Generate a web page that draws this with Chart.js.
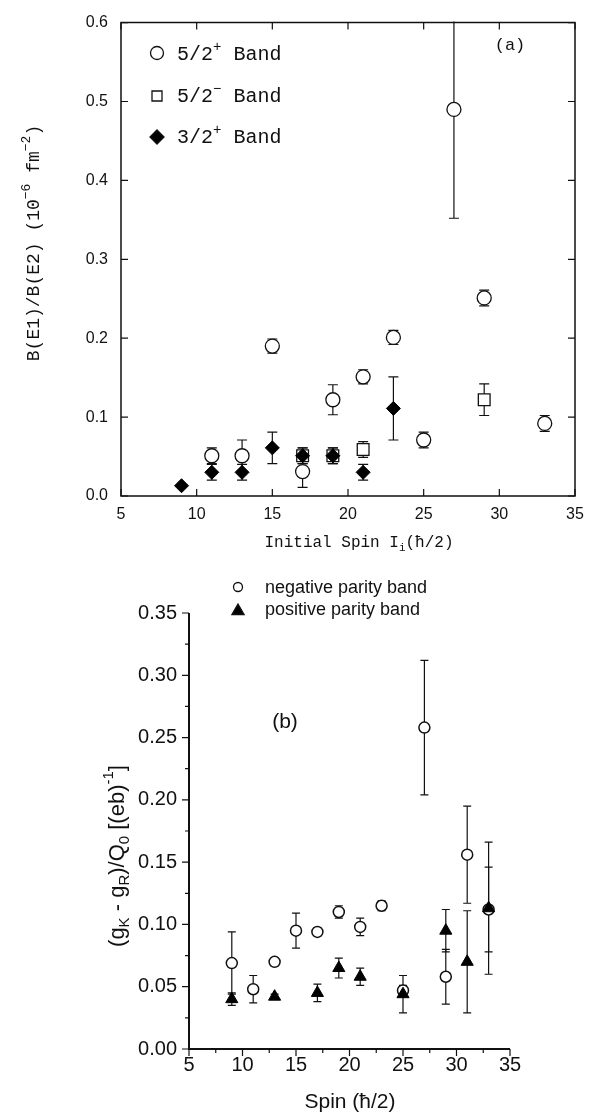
<!DOCTYPE html>
<html>
<head>
<meta charset="utf-8">
<script src="https://cdn.jsdelivr.net/npm/chart.js"></script>
<style>
  body { margin: 0; background: #fff; }
  #wrap { position: relative; width: 601px; height: 1114px; background: #fff; }
  canvas { position: absolute; left: 0; }
</style>
</head>
<body>
<div id="wrap">
  <canvas id="chartA" width="601" height="560" style="top:0"></canvas>
  <canvas id="chartB" width="601" height="554" style="top:560px"></canvas>
</div>
<script>
// ---- panel (a): B(E1)/B(E2) ----
const spinPos52 = [11, 13, 15, 17, 19, 21, 23, 25, 27, 29, 33];
const ratioPos52 = [0.051, 0.051, 0.190, 0.031, 0.122, 0.151, 0.201, 0.071, 0.490, 0.251, 0.092];
const errPos52 = [0.010, 0.020, 0.009, 0.020, 0.019, 0.009, 0.009, 0.010, 0.138, 0.010, 0.010];

const spinNeg52 = [17, 19, 21, 29];
const ratioNeg52 = [0.051, 0.051, 0.059, 0.122];
const errNeg52 = [0.010, 0.010, 0.010, 0.020];

const spinPos32 = [9, 11, 13, 15, 17, 19, 21, 23];
const ratioPos32 = [0.013, 0.030, 0.030, 0.061, 0.051, 0.051, 0.030, 0.111];
const errPos32 = [0, 0.010, 0.010, 0.020, 0.010, 0.010, 0.010, 0.040];

// ---- panel (b): (gK - gR)/Q0 ----
const spinNegParity = [9, 11, 13, 15, 17, 19, 21, 23, 25, 27, 29, 31, 33];
const gNegParity = [0.069, 0.048, 0.070, 0.095, 0.094, 0.110, 0.098, 0.115, 0.047, 0.258, 0.058, 0.156, 0.112];
const errNegParity = [0.025, 0.011, 0.003, 0.014, 0.003, 0.005, 0.007, 0.004, 0.004, 0.054, 0.022, 0.039, 0.034];

const spinPosParity = [9, 13, 17, 19, 21, 25, 29, 31, 33];
const gPosParity = [0.040, 0.042, 0.045, 0.065, 0.058, 0.044, 0.095, 0.070, 0.113];
const errPosParity = [0.005, 0.002, 0.007, 0.008, 0.007, 0.015, 0.017, 0.041, 0.053];

const spinTicks = [5, 10, 15, 20, 25, 30, 35];

function points(xs, ys, es) {
  return xs.map((x, i) => ({ x: x, y: ys[i], err: es[i] }));
}

// draw a line of text with sub/superscripts; parts = [[text, ''|'sub'|'sup'], ...]
function richText(ctx, parts, x, y, size, family, align, rotate) {
  ctx.save();
  ctx.translate(x, y);
  if (rotate) ctx.rotate(-Math.PI / 2);
  ctx.fillStyle = '#111';
  ctx.textBaseline = 'middle';
  ctx.textAlign = 'left';
  const small = Math.round(size * 0.7);
  const fontFor = k => (k ? small : size) + 'px ' + family;
  let total = 0;
  parts.forEach(p => { ctx.font = fontFor(p[1]); total += ctx.measureText(p[0]).width; });
  let cx = align === 'center' ? -total / 2 : 0;
  parts.forEach(p => {
    ctx.font = fontFor(p[1]);
    const dy = p[1] === 'sub' ? size * 0.3 : p[1] === 'sup' ? -size * 0.4 : 0;
    ctx.fillText(p[0], cx, dy);
    cx += ctx.measureText(p[0]).width;
  });
  ctx.restore();
}

function marker(ctx, style, x, y, r, fill) {
  ctx.save();
  ctx.beginPath();
  if (style === 'circle') {
    ctx.arc(x, y, r, 0, Math.PI * 2);
  } else if (style === 'rect') {
    ctx.rect(x - r, y - r, 2 * r, 2 * r);
  } else if (style === 'diamond') {
    ctx.moveTo(x, y - r); ctx.lineTo(x + r, y); ctx.lineTo(x, y + r); ctx.lineTo(x - r, y); ctx.closePath();
  } else if (style === 'triangle') {
    ctx.moveTo(x, y - r); ctx.lineTo(x + r * 0.87, y + r * 0.5); ctx.lineTo(x - r * 0.87, y + r * 0.5); ctx.closePath();
  }
  ctx.fillStyle = fill;
  ctx.fill();
  ctx.lineWidth = 1.3;
  ctx.strokeStyle = '#111';
  ctx.stroke();
  ctx.restore();
}

// error bars, drawn under the markers
const errorBars = {
  id: 'errorBars',
  beforeDatasetsDraw(chart, args, opts) {
    const { ctx, chartArea: a, scales } = chart;
    ctx.save();
    ctx.beginPath();
    ctx.rect(a.left, a.top - 1, a.right - a.left, a.bottom - a.top + 2);
    ctx.clip();
    ctx.strokeStyle = '#111';
    ctx.lineWidth = opts.width || 1.2;
    chart.data.datasets.forEach(ds => {
      ds.data.forEach(p => {
        if (!p.err) return;
        const px = scales.x.getPixelForValue(p.x);
        const y1 = scales.y.getPixelForValue(p.y + p.err);
        const y2 = scales.y.getPixelForValue(p.y - p.err);
        ctx.beginPath();
        ctx.moveTo(px, y1); ctx.lineTo(px, y2);
        ctx.moveTo(px - opts.cap, y1); ctx.lineTo(px + opts.cap, y1);
        ctx.moveTo(px - opts.cap, y2); ctx.lineTo(px + opts.cap, y2);
        ctx.stroke();
      });
    });
    ctx.restore();
  }
};

// frame / axes with tick marks
const frame = {
  id: 'frame',
  afterDraw(chart, args, opts) {
    const { ctx, chartArea: a, scales } = chart;
    ctx.save();
    ctx.strokeStyle = '#111';
    ctx.lineWidth = opts.lineWidth;
    ctx.beginPath();
    if (opts.box) {
      ctx.rect(a.left, a.top, a.right - a.left, a.bottom - a.top);
    } else {
      ctx.moveTo(a.left, a.top); ctx.lineTo(a.left, a.bottom); ctx.lineTo(a.right, a.bottom);
    }
    ctx.stroke();
    ctx.lineWidth = 1.2;
    ctx.beginPath();
    const L = opts.tick, dir = opts.box ? 1 : -1;
    scales.x.ticks.forEach(t => {
      const px = scales.x.getPixelForValue(t.value);
      ctx.moveTo(px, a.bottom); ctx.lineTo(px, a.bottom - dir * L);
      if (opts.box) { ctx.moveTo(px, a.top); ctx.lineTo(px, a.top + L); }
    });
    scales.y.ticks.forEach(t => {
      const py = scales.y.getPixelForValue(t.value);
      ctx.moveTo(a.left, py); ctx.lineTo(a.left + dir * L, py);
      if (opts.box) { ctx.moveTo(a.right, py); ctx.lineTo(a.right - L, py); }
    });
    if (opts.minor) {
      const xs = scales.x.ticks, ys = scales.y.ticks;
      for (let i = 0; i < xs.length - 1; i++) {
        const px = scales.x.getPixelForValue((xs[i].value + xs[i + 1].value) / 2);
        ctx.moveTo(px, a.bottom); ctx.lineTo(px, a.bottom + opts.minor);
      }
      for (let i = 0; i < ys.length - 1; i++) {
        const py = scales.y.getPixelForValue((ys[i].value + ys[i + 1].value) / 2);
        ctx.moveTo(a.left, py); ctx.lineTo(a.left - opts.minor, py);
      }
    }
    ctx.stroke();
    ctx.restore();
    if (opts.decorate) opts.decorate(ctx, chart);
  }
};

const MONO = "'Liberation Mono', 'DejaVu Sans Mono', monospace";
const SANS = "'Liberation Sans', Arial, sans-serif";

function baseOptions(yMin, yMax, yStep, yDigits, yWidth, xHeight, pad, tickFont, yPad, xPad, frameOpts, cap) {
  return {
    responsive: false,
    animation: false,
    devicePixelRatio: 1,
    events: [],
    layout: { padding: pad },
    plugins: {
      legend: { display: false },
      tooltip: { enabled: false },
      errorBars: { cap: cap, width: 1.2 },
      frame: frameOpts
    },
    scales: {
      x: {
        type: 'linear', min: 5, max: 35,
        afterBuildTicks: s => { s.ticks = spinTicks.map(v => ({ value: v })); },
        afterFit: s => { s.height = xHeight; },
        grid: { display: false, drawTicks: false },
        border: { display: false },
        ticks: { autoSkip: false, maxRotation: 0, padding: xPad, color: '#111', font: tickFont,
                 callback: v => String(v) }
      },
      y: {
        type: 'linear', min: yMin, max: yMax,
        afterFit: s => { s.width = yWidth; },
        grid: { display: false, drawTicks: false },
        border: { display: false },
        ticks: { stepSize: yStep, autoSkip: false, padding: yPad, color: '#111', font: tickFont,
                 callback: v => Number(v).toFixed(yDigits) }
      }
    }
  };
}

// ---- chart (a) ----
new Chart(document.getElementById('chartA'), {
  type: 'scatter',
  plugins: [errorBars, frame],
  data: {
    datasets: [
      { label: '3/2+ Band', data: points(spinPos32, ratioPos32, errPos32), pointStyle: 'rectRot',
        pointRadius: 7, backgroundColor: '#000', borderColor: '#000', borderWidth: 1 },
      { label: '5/2+ Band', data: points(spinPos52, ratioPos52, errPos52), pointStyle: 'circle',
        pointRadius: 7, backgroundColor: '#fff', borderColor: '#111', borderWidth: 1.3 },
      { label: '5/2- Band', data: points(spinNeg52, ratioNeg52, errNeg52), pointStyle: 'rect',
        pointRadius: 8.3, backgroundColor: '#fff', borderColor: '#111', borderWidth: 1.3 }
    ]
  },
  options: baseOptions(0, 0.6, 0.1, 1, 121, 64, { top: 15, right: 26, left: 0, bottom: 0 },
    { family: SANS, size: 16 }, 13, 9,
    {
      box: true, lineWidth: 1.5, tick: 7,
      decorate(ctx) {
        marker(ctx, 'circle', 157, 53, 6.5, '#fff');
        marker(ctx, 'rect', 157, 96, 5, '#fff');
        marker(ctx, 'diamond', 157, 137, 7, '#000');
        richText(ctx, [['5/2', ''], ['+', 'sup'], [' Band', '']], 177, 55, 20, MONO, 'left');
        richText(ctx, [['5/2', ''], ['−', 'sup'], [' Band', '']], 177, 97, 20, MONO, 'left');
        richText(ctx, [['3/2', ''], ['+', 'sup'], [' Band', '']], 177, 138, 20, MONO, 'left');
        richText(ctx, [['(a)', '']], 510, 45, 17, MONO, 'center');
        richText(ctx, [['Initial Spin I', ''], ['i', 'sub'], ['(ħ/2)', '']], 359, 543, 16, MONO, 'center');
        richText(ctx, [['B(E1)/B(E2) (10', ''], ['−6', 'sup'], [' fm', ''], ['−2', 'sup'], [')', '']],
          34, 243, 18, MONO, 'center', true);
      }
    }, 5)
});

// ---- chart (b) ----
new Chart(document.getElementById('chartB'), {
  type: 'scatter',
  plugins: [errorBars, frame],
  data: {
    datasets: [
      { label: 'positive parity band', data: points(spinPosParity, gPosParity, errPosParity), pointStyle: 'triangle',
        pointRadius: 7, backgroundColor: '#000', borderColor: '#000', borderWidth: 1 },
      { label: 'negative parity band', data: points(spinNegParity, gNegParity, errNegParity), pointStyle: 'circle',
        pointRadius: 5.5, backgroundColor: '#fff', borderColor: '#111', borderWidth: 1.5 }
    ]
  },
  options: baseOptions(0, 0.35, 0.05, 2, 189, 65, { top: 53, right: 91, left: 0, bottom: 0 },
    { family: SANS, size: 20 }, 12, 4,
    {
      box: false, lineWidth: 2, tick: 7, minor: 4,
      decorate(ctx) {
        marker(ctx, 'circle', 238, 27, 4.5, '#fff');
        marker(ctx, 'triangle', 238, 51, 7, '#000');
        richText(ctx, [['negative parity band', '']], 265, 28, 18, SANS, 'left');
        richText(ctx, [['positive parity band', '']], 265, 50, 18, SANS, 'left');
        richText(ctx, [['(b)', '']], 285, 162, 21, SANS, 'center');
        richText(ctx, [['Spin (ħ/2)', '']], 350, 542, 21, SANS, 'center');
        richText(ctx, [['(g', ''], ['K', 'sub'], [' - g', ''], ['R', 'sub'], [')/Q', ''], ['0', 'sub'],
          [' [(eb)', ''], ['-1', 'sup'], [']', '']], 118, 296, 22, SANS, 'center', true);
      }
    }, 4)
});
</script>
</body>
</html>
